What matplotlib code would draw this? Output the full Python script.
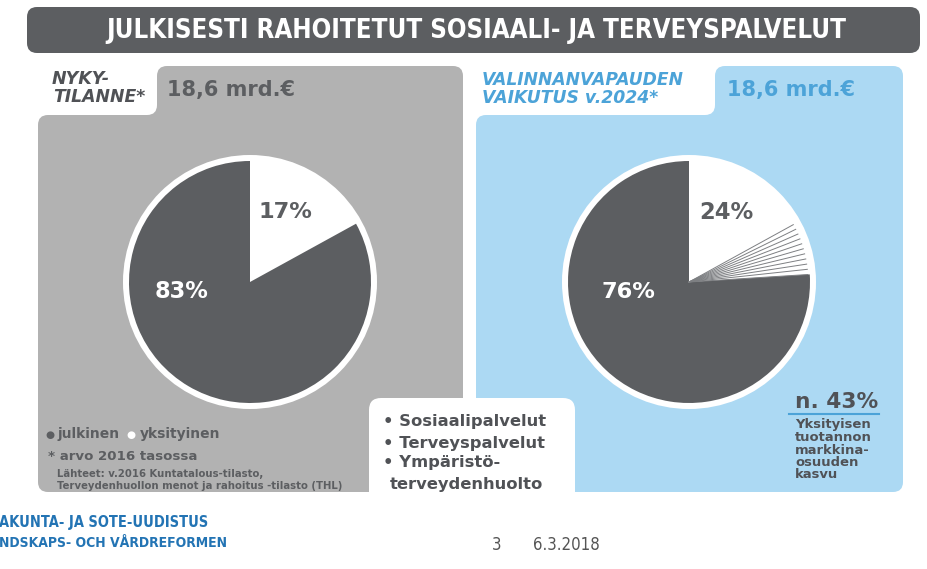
import numpy as np
import matplotlib
matplotlib.use("Agg")
import matplotlib.pyplot as plt
from matplotlib.path import Path
from matplotlib.patches import PathPatch, FancyBboxPatch, Circle

# data
title = "JULKISESTI RAHOITETUT SOSIAALI- JA TERVEYSPALVELUT"
labels = ["yksityinen", "julkinen"]
now_share = [17, 83]        # nykytilanne 2016
future_share = [24, 76]     # valinnanvapauden vaikutus v.2024
total = "18,6 mrd.€"
services = ["Sosiaalipalvelut", "Terveyspalvelut", "Ympäristö-", "terveydenhuolto"]
growth = "n. 43%"
growth_text = ["Yksityisen", "tuotannon", "markkina-", "osuuden", "kasvu"]

DARK = "#5c5e61"
TXT = "#505256"
GREY = "#b2b2b2"
BLUE = "#acd9f3"
BLUE_TXT = "#4ca3d8"
FOOT = "#2374b4"

fig = plt.figure(figsize=(9.28, 5.69), dpi=100)
ax = fig.add_axes([0, 0, 1, 1])
ax.axis("off")
ax.set_xlim(0, 928)
ax.set_ylim(569, 0)


def rounded(pts, r):
    # polygon with rounded corners (quadratic curves at each vertex)
    pts = np.asarray(pts, float)
    n = len(pts)
    verts, codes = [], []
    for i in range(n):
        p0, p1, p2 = pts[i - 1], pts[i], pts[(i + 1) % n]
        d_in = (p1 - p0) / np.linalg.norm(p1 - p0)
        d_out = (p2 - p1) / np.linalg.norm(p2 - p1)
        a = p1 - d_in * r
        b = p1 + d_out * r
        if i == 0:
            verts.append(a); codes.append(Path.MOVETO)
        else:
            verts.append(a); codes.append(Path.LINETO)
        verts += [p1, b]; codes += [Path.CURVE3, Path.CURVE3]
    verts.append(verts[0]); codes.append(Path.CLOSEPOLY)
    return Path(verts, codes)


renderer = fig.canvas.get_renderer()


def fit(t, width):
    bb = t.get_window_extent(renderer)
    t.set_fontsize(t.get_fontsize() * width / bb.width)
    return t.get_fontsize()


# title bar
ax.add_patch(FancyBboxPatch((27, 7), 893, 46, boxstyle="round,pad=0,rounding_size=10",
                            fc=DARK, ec="none", zorder=1))
t = ax.text(476, 31, title, color="white", fontsize=16, fontweight="bold",
            fontstretch="condensed", ha="center", va="center", zorder=5)
fit(t, 744)

# panels
ax.add_patch(PathPatch(rounded([(38, 115), (157, 115), (157, 66), (463, 66), (463, 492), (38, 492)], 10),
                       fc=GREY, ec="none", zorder=1))
ax.add_patch(PathPatch(rounded([(476, 115), (715, 115), (715, 66), (903, 66), (903, 492), (476, 492)], 10),
                       fc=BLUE, ec="none", zorder=1))

t = ax.text(52, 79, "NYKY-", color=TXT, fontsize=12, fontweight="bold", style="italic",
            ha="left", va="center", zorder=5)
fit(t, 58)
t = ax.text(53, 97, "TILANNE*", color=TXT, fontsize=12, fontweight="bold", style="italic",
            ha="left", va="center", zorder=5)
fit(t, 92)
t = ax.text(167, 90, total, color=DARK, fontsize=15, fontweight="bold", ha="left", va="center", zorder=5)
fit(t, 128)

t = ax.text(482, 80, "VALINNANVAPAUDEN", color=BLUE_TXT, fontsize=12, fontweight="bold", style="italic",
            ha="left", va="center", zorder=5)
fit(t, 201)
t = ax.text(482, 98, "VAIKUTUS v.2024*", color=BLUE_TXT, fontsize=12, fontweight="bold", style="italic",
            ha="left", va="center", zorder=5)
fit(t, 176)
t = ax.text(727, 90, total, color=BLUE_TXT, fontsize=15, fontweight="bold", ha="left", va="center", zorder=5)
fit(t, 128)

# pies
for cx, vals in [(250, now_share), (689, future_share)]:
    ax.add_patch(Circle((cx, 282), 127, fc="white", ec="none", zorder=2))
    ax.pie(vals, colors=["white", DARK], startangle=270, counterclock=True,
           center=(cx, 282), radius=121, frame=True,
           wedgeprops=dict(linewidth=0, zorder=3))

# growth of private share drawn as thin lines in the new slice
a0 = 270 + 360 * now_share[0] / 100
a1 = 270 + 360 * future_share[0] / 100
for a in np.linspace(a0, a1, 11):
    th = np.deg2rad(a)
    ax.plot([689, 689 + 119 * np.cos(th)], [282, 282 + 119 * np.sin(th)],
            color="#7d7f82", lw=0.7, zorder=4)

for x, y, s, c in [(285, 212, now_share[0], DARK), (182, 291, now_share[1], "white"),
                   (726, 212, future_share[0], DARK), (628, 292, future_share[1], "white")]:
    t = ax.text(x, y, f"{s}%", color=c, fontsize=16, fontweight="bold", ha="center", va="center", zorder=5)
    fit(t, 54)

# legend texts on the left panel
ax.text(45, 435, "●", color=DARK, fontsize=7.5, ha="left", va="center", zorder=5)
t = ax.text(58, 434, labels[1], color=DARK, fontsize=10, fontweight="bold", ha="left", va="center", zorder=5)
fs = fit(t, 62)
ax.text(126, 435, "●", color="white", fontsize=7.5, ha="left", va="center", zorder=5)
ax.text(140, 434, labels[0], color=DARK, fontsize=fs, fontweight="bold", ha="left", va="center", zorder=5)
t = ax.text(48, 456, "* arvo 2016 tasossa", color=DARK, fontsize=9, fontweight="bold",
            ha="left", va="center", zorder=5)
fit(t, 149)
t = ax.text(57, 486, "Terveydenhuollon menot ja rahoitus -tilasto (THL)", color=DARK, fontsize=7,
            fontweight="bold", ha="left", va="center", zorder=5)
fs = fit(t, 285)
ax.text(57, 474, "Lähteet: v.2016 Kuntatalous-tilasto,", color=DARK, fontsize=fs,
        fontweight="bold", ha="left", va="center", zorder=5)

# white box with services
ax.add_patch(FancyBboxPatch((369, 398), 206, 110, boxstyle="round,pad=0,rounding_size=12",
                            fc="white", ec="none", zorder=4))
t = ax.text(383, 421, "• " + services[0], color=TXT, fontsize=12, fontweight="bold",
            ha="left", va="center", zorder=5)
fs = fit(t, 162)
ax.text(383, 443, "• " + services[1], color=TXT, fontsize=fs, fontweight="bold", ha="left", va="center", zorder=5)
ax.text(383, 463, "• " + services[2], color=TXT, fontsize=fs, fontweight="bold", ha="left", va="center", zorder=5)
ax.text(390, 484, services[3], color=TXT, fontsize=fs, fontweight="bold", ha="left", va="center", zorder=5)

# growth note
t = ax.text(795, 402, growth, color=TXT, fontsize=15, fontweight="bold", ha="left", va="center", zorder=5)
fit(t, 83)
ax.plot([789, 879], [414, 414], color="#4ca3d8", lw=1.5, zorder=5)
t = ax.text(795, 424, growth_text[0], color=TXT, fontsize=9, fontweight="bold", ha="left", va="center", zorder=5)
fs = fit(t, 75)
for y, s in zip([437, 450, 462, 475], growth_text[1:]):
    ax.text(795, y, s, color=TXT, fontsize=fs, fontweight="bold", ha="left", va="center", zorder=5)

# footer
t = ax.text(-1, 522, "AKUNTA- JA SOTE-UUDISTUS", color=FOOT, fontsize=9, fontweight="bold",
            fontstretch="condensed", ha="left", va="center", zorder=5)
fit(t, 208)
t = ax.text(-1, 543, "NDSKAPS- OCH VÅRDREFORMEN", color=FOOT, fontsize=9, fontweight="bold",
            fontstretch="condensed", ha="left", va="center", zorder=5)
fit(t, 229)
t = ax.text(533, 545, "6.3.2018", color="#555555", fontsize=8.5, fontstretch="condensed",
            ha="left", va="center")
fs = fit(t, 67)
ax.text(492, 545, "3", color="#555555", fontsize=fs, fontstretch="condensed", ha="left", va="center")

ax.set_xlim(0, 928)
ax.set_ylim(569, 0)
fig.savefig("out.png", dpi=100)
